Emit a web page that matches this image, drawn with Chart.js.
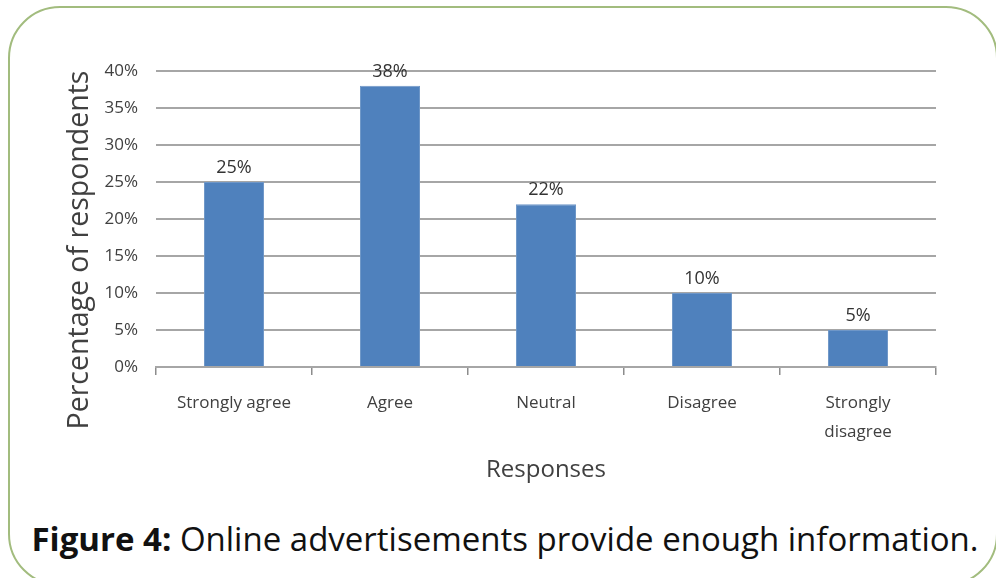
<!DOCTYPE html>
<html>
<head>
<meta charset="utf-8">
<script src="https://cdn.jsdelivr.net/npm/chart.js@4"></script>
<style>
  body { margin: 0; background: #fff; overflow: hidden; }
  #frame {
    position: absolute; left: 8px; top: 6px; width: 990px; height: 580px;
    border: 2px solid #a2bc7e; border-radius: 52px; box-sizing: border-box;
  }
  #wrap { position: absolute; left: 0; top: 0; width: 996px; height: 500px; }
  #caption {
    position: absolute; left: 0; top: 516px; width: 1010px; text-align: center;
    font-family: "Open Sans", sans-serif; font-size: 33px; color: #111;
    white-space: nowrap;
  }
</style>
</head>
<body>
<div id="frame"></div>
<div id="wrap"><canvas id="myChart" width="996" height="500"></canvas></div>
<div id="caption"><b>Figure 4:</b> Online advertisements provide enough information.</div>
<script>
var responses = ['Strongly agree', 'Agree', 'Neutral', 'Disagree', ['Strongly', 'disagree']]
var percent = [25, 38, 22, 10, 5]
var yTicks = [0, 5, 10, 15, 20, 25, 30, 35, 40]
var yTitle = 'Percentage of respondents'

// value labels above the bars + y title (sits lower than the plot centre in the original)
var barLabels = {
  id: 'barLabels',
  afterDatasetsDraw: function(chart) {
    var ctx = chart.ctx
    var meta = chart.getDatasetMeta(0)
    ctx.save()
    ctx.font = '18px "Open Sans"'
    ctx.fillStyle = '#333'
    ctx.textAlign = 'center'
    ctx.textBaseline = 'middle'
    meta.data.forEach(function(bar, i) {
      ctx.fillText(percent[i] + '%', bar.x, bar.y - 14)
    })
    ctx.restore()

    ctx.save()
    ctx.translate(80, 250)
    ctx.rotate(-Math.PI / 2)
    ctx.font = '28.5px "Open Sans"'
    ctx.fillStyle = '#404040'
    ctx.textAlign = 'center'
    ctx.textBaseline = 'middle'
    ctx.fillText(yTitle, 0, 0)
    ctx.restore()
  }
}

var data = {
  labels: responses,
  datasets: [{
    data: percent,
    backgroundColor: '#4f81bd',
    borderColor: '#6f97c8',
    borderWidth: 1,
    barPercentage: 0.385,
    categoryPercentage: 1
  }]
}

const config = {
  type: 'bar',
  data,
  plugins: [barLabels],
  options: {
    responsive: false,
    animation: false,
    layout: { padding: { left: 60, right: 60, top: 71, bottom: 11.6 } },
    plugins: { legend: { display: false }, tooltip: { enabled: false } },
    scales: {
      y: {
        min: 0, max: 40,
        afterBuildTicks: function(scale) {
          scale.ticks = yTicks.map(function(v) { return { value: v } })
        },
        afterFit: function(scale) { scale.width = 96 },
        grid: { color: '#a6a6a6', lineWidth: 2, drawTicks: false },
        border: { display: false },
        ticks: {
          padding: 18,
          color: '#404040',
          font: { family: 'Open Sans', size: 17 },
          callback: function(v) { return v + '%' }
        }
      },
      x: {
        afterFit: function(scale) { scale.height = 121.4 },
        grid: { drawOnChartArea: false, drawTicks: true, tickLength: 8, color: '#8c8c8c', lineWidth: 1.5 },
        border: { display: true, color: '#a6a6a6', width: 2 },
        ticks: {
          padding: 13.5,
          color: '#404040',
          maxRotation: 0,
          font: { family: 'Open Sans', size: 17, lineHeight: '29px' }
        },
        title: {
          display: true,
          text: 'Responses',
          color: '#404040',
          font: { family: 'Open Sans', size: 24 }
        }
      }
    }
  }
}

var myChart = new Chart(document.getElementById('myChart'), config)
</script>
</body>
</html>
